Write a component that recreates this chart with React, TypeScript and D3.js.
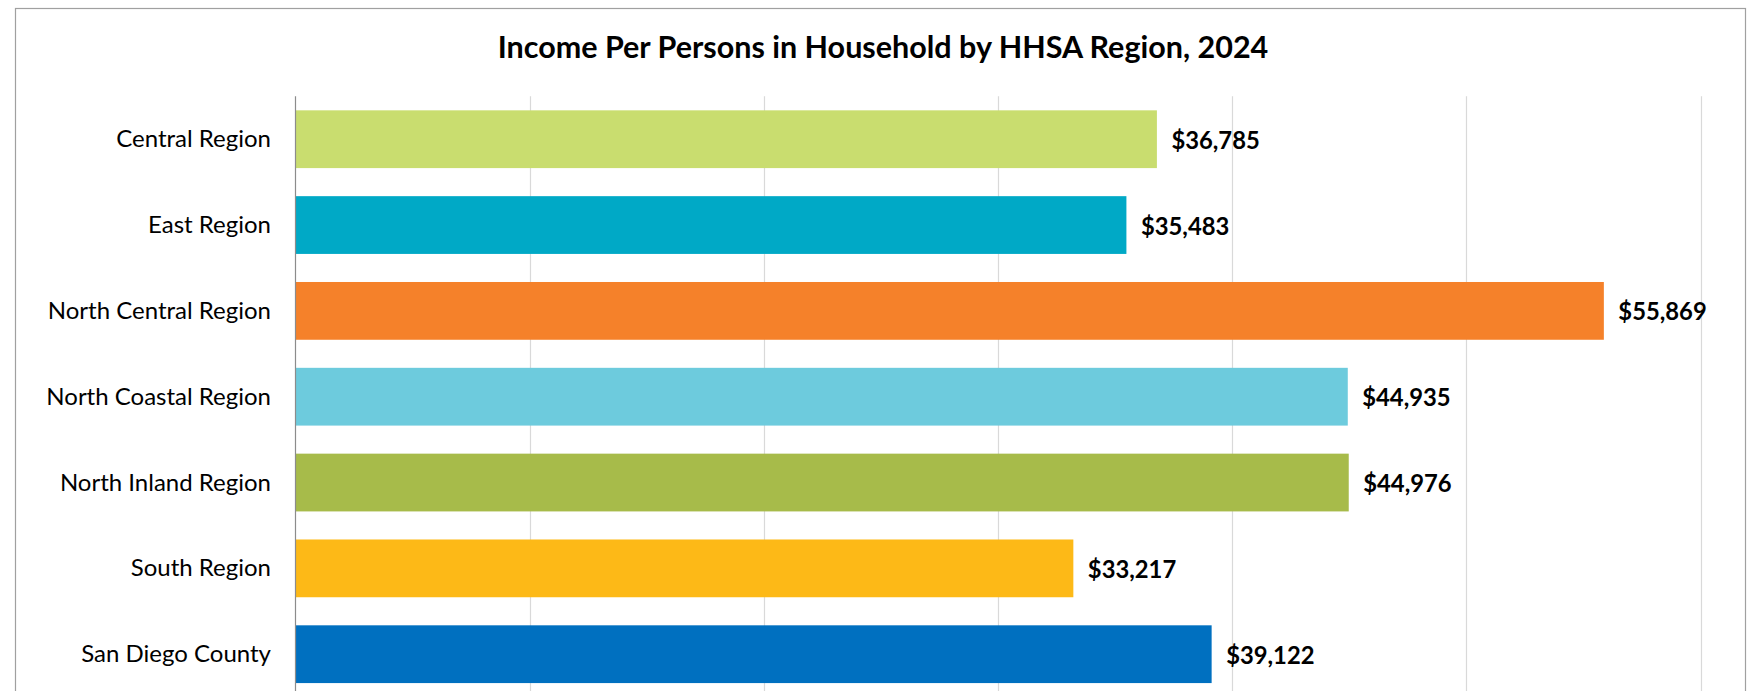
import React, { useEffect, useRef } from "react";
import * as d3 from "d3";

const categories: string[] = [
  "Central Region",
  "East Region",
  "North Central Region",
  "North Coastal Region",
  "North Inland Region",
  "South Region",
  "San Diego County",
];
const values: number[] = [36785, 35483, 55869, 44935, 44976, 33217, 39122];
const barColors: string[] = ["#C9DD6F", "#00A9C6", "#F5812A", "#6DCBDD", "#A7BB4A", "#FDB917", "#0070C0"];
const xTicks: number[] = [0, 10000, 20000, 30000, 40000, 50000, 60000];
const title = "Income Per Persons in Household by HHSA Region, 2024";

const W = 1747;
const H = 691;
const FONT = "Lato, 'Open Sans', sans-serif";

export default function App() {
  const ref = useRef<SVGSVGElement | null>(null);

  useEffect(() => {
    const svg = d3.select(ref.current);
    svg.selectAll("*").remove();

    const left = 295.4;
    const right = 1700.6;
    const top = 96.3;
    const bottom = 96.3 + 7 * 85.83;

    const x = d3.scaleLinear().domain([0, 60000]).range([left, right]);
    const y = d3
      .scaleBand<string>()
      .domain(categories)
      .range([top, bottom])
      .paddingInner(0.327)
      .paddingOuter(0.1635);

    svg
      .append("rect")
      .attr("x", 0)
      .attr("y", 0)
      .attr("width", W)
      .attr("height", H)
      .attr("fill", "#ffffff");

    svg
      .append("rect")
      .attr("x", 15.5)
      .attr("y", 8.5)
      .attr("width", 1730)
      .attr("height", 720)
      .attr("fill", "none")
      .attr("stroke", "#A0A0A0")
      .attr("stroke-width", 1.2);

    svg
      .append("text")
      .attr("x", 883)
      .attr("y", 46)
      .attr("text-anchor", "middle")
      .attr("dominant-baseline", "central")
      .attr("font-family", FONT)
      .attr("font-weight", "bold")
      .attr("font-size", 30.5)
      .attr("fill", "#000")
      .text(title);

    // gridlines
    svg
      .append("g")
      .selectAll("line")
      .data(xTicks.slice(1))
      .join("line")
      .attr("x1", (d) => Math.round(x(d)) + 0.5)
      .attr("x2", (d) => Math.round(x(d)) + 0.5)
      .attr("y1", top)
      .attr("y2", bottom)
      .attr("stroke", "#D9D9D9")
      .attr("stroke-width", 1.2);

    // bars
    svg
      .append("g")
      .selectAll("rect")
      .data(values)
      .join("rect")
      .attr("x", x(0))
      .attr("y", (_, i) => y(categories[i]) as number)
      .attr("width", (d) => x(d) - x(0))
      .attr("height", y.bandwidth())
      .attr("fill", (_, i) => barColors[i]);

    // axis line
    svg
      .append("line")
      .attr("x1", Math.round(x(0)) + 0.5)
      .attr("x2", Math.round(x(0)) + 0.5)
      .attr("y1", top)
      .attr("y2", bottom)
      .attr("stroke", "#8C8C8C")
      .attr("stroke-width", 1.2);

    // category labels
    svg
      .append("g")
      .selectAll("text")
      .data(categories)
      .join("text")
      .attr("x", 271)
      .attr("y", (d) => (y(d) as number) + y.bandwidth() / 2 - 1.5)
      .attr("text-anchor", "end")
      .attr("dominant-baseline", "central")
      .attr("font-family", FONT)
      .attr("font-size", 24)
      .attr("fill", "#000")
      .text((d) => d);

    // value labels
    const fmt = d3.format(",");
    svg
      .append("g")
      .selectAll("text")
      .data(values)
      .join("text")
      .attr("x", (d) => x(d) + 14.5)
      .attr("y", (_, i) => (y(categories[i]) as number) + y.bandwidth() / 2 + 0.5)
      .attr("dominant-baseline", "central")
      .attr("font-family", FONT)
      .attr("font-weight", "bold")
      .attr("font-size", 23.8)
      .attr("fill", "#000")
      .text((d) => "$" + fmt(d));
  }, []);

  return (
    <div style={{ position: "absolute", left: 0, top: 0, width: W, height: H, overflow: "hidden" }}>
      <svg ref={ref} width={W} height={H} style={{ display: "block" }} />
    </div>
  );
}
